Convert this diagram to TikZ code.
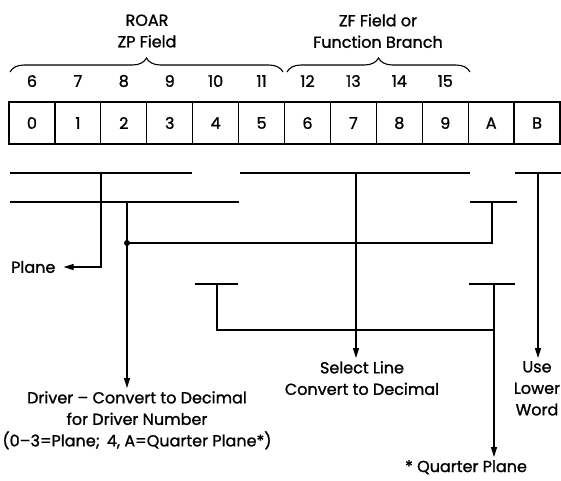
\documentclass[tikz,border=0pt]{standalone}
\usepackage{fontspec}
\setmainfont{Poppins}[FakeBold=1.2]
\usetikzlibrary{arrows.meta, positioning, calc, decorations.pathreplacing}

\begin{document}
\begin{tikzpicture}[x=1pt, y=-1pt, align=center, font=\fontsize{16}{21.5}\selectfont,
    cell/.style={draw, line width=1.3pt, minimum width=45.92pt, minimum height=42pt, inner sep=0pt, outer sep=0pt},
    bus/.style={line width=2.2pt},
    wire/.style={line width=1.1pt},
    arr/.style={wire, -{Triangle[length=10pt, width=6pt]}}]
    \useasboundingbox (0,0) rectangle (561,480);

    \foreach \t [count=\i from 0] in {0,1,2,3,4,5,6,7,8,9,A,B}
      \node [cell] (c\i) at ({31.96+45.92*\i},123) {\t};
    \draw [line width=2.2pt] (c0.north west) rectangle (c11.south east);

    \foreach \n [count=\i from 0] in {6,7,8,9,10,11,12,13,14,15}
      \node (b\n) at ({31.96+45.92*\i},81) {\n};

    \draw [wire, decorate, decoration={brace, amplitude=14pt}] (10,72) -- (283,72);
    \draw [wire, decorate, decoration={brace, amplitude=14pt}] (287,72) -- (470,72);
    \node (roar) at (147,31) {ROAR\\ZP Field};
    \node (zf) at (378,31) {ZF Field or\\Function Branch};

    \draw [bus] (10,173) -- (192,173);
    \draw [bus] (240,173) -- (470,173);
    \draw [bus] (515,173) -- (561,173);
    \draw [bus] (10,202) -- (239,202);
    \draw [bus] (470,202) -- (517,202);
    \draw [bus] (195,284) -- (238,284);
    \draw [bus] (469,284) -- (515,284);

    \coordinate (tplane) at (101,173);
    \coordinate (tdrv) at (127,202);
    \coordinate (tqa) at (492,202);
    \coordinate (jdrv) at (127,243);
    \coordinate (tsel) at (356,173);
    \coordinate (tuse) at (538,173);
    \coordinate (tqb) at (217,284);
    \coordinate (tqc) at (494,284);
    \coordinate (jq) at (494,330);

    \node [anchor=west, inner xsep=8pt] (plane) at (3,267) {Plane};
    \node [anchor=north, inner sep=3pt] (driver) at (137,388)
      {Driver -- Convert to Decimal\\for Driver Number\\(0--3{=}Plane;\ \,4, A{=}Quarter Plane*)};
    \node [anchor=north, inner sep=3pt] (select) at (362,358) {Select Line\\Convert to Decimal};
    \node [anchor=north, inner sep=3pt] (use) at (537,358) {Use\\Lower\\Word};
    \node [anchor=north, inner sep=3pt] (quarter) at (466,457) {* Quarter Plane};

    \draw [arr] (tplane) |- (plane.east);
    \draw [arr] (tdrv) -- (tdrv |- driver.north);
    \fill (jdrv) circle (3pt);
    \draw [wire] (jdrv) -| (tqa);
    \draw [arr] (tsel) -- (tsel |- select.north);
    \draw [arr] (tuse) -- (tuse |- use.north);
    \draw [wire] (tqb) |- (jq);
    \draw [arr] (tqc) -- (tqc |- quarter.north);
  \end{tikzpicture}
\end{document}
